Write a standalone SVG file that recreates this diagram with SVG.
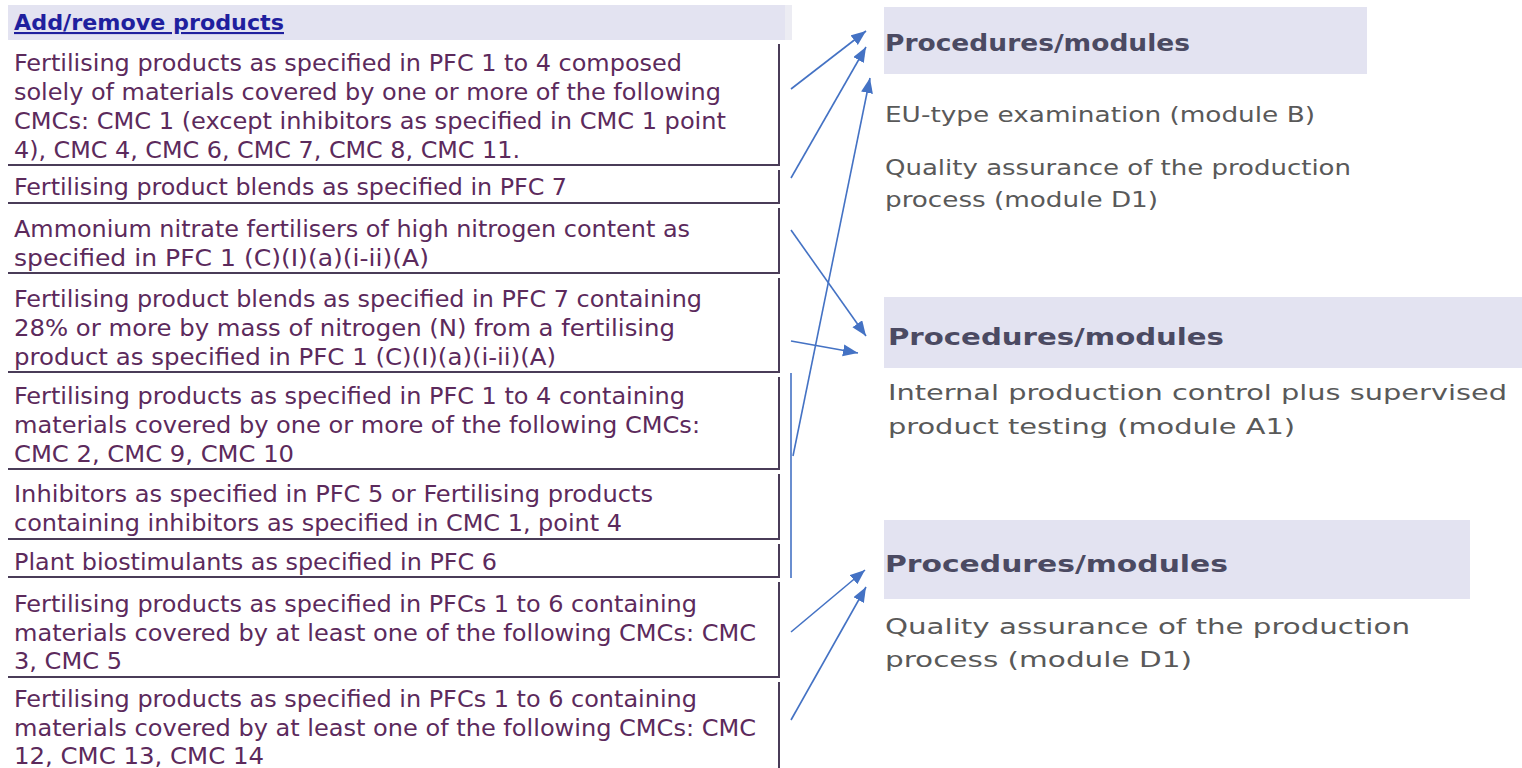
<svg xmlns="http://www.w3.org/2000/svg" width="1522" height="768" viewBox="0 0 1522 768">
<style>
.t{font-family:"DejaVu Sans Condensed","DejaVu Sans",sans-serif;font-size:23px;fill:#5c2a5c}
.hd{font-family:"DejaVu Sans Condensed","DejaVu Sans",sans-serif;font-size:21px;font-weight:bold;fill:#1f1f9e;text-decoration:underline}
.ph{font-family:"DejaVu Sans Condensed","DejaVu Sans",sans-serif;font-size:23px;font-weight:bold;fill:#4b4a62}
.pt{font-family:"DejaVu Sans Condensed","DejaVu Sans",sans-serif;font-size:22px;fill:#595959}
.bd{stroke:#4a3c58;stroke-width:2;fill:none}
.band{fill:#e3e3f1}
.ar{stroke:#4472c4;stroke-width:1.6;fill:none}
</style>
<defs>
<marker id="ah" markerUnits="userSpaceOnUse" markerWidth="16" markerHeight="14" refX="15" refY="6" orient="auto">
<path d="M0,0 L15,6 L0,12 Z" fill="#4472c4"/>
</marker>
</defs>
<rect width="1522" height="768" fill="#ffffff"/>

<g id="header-left">
<rect class="band" x="8" y="5" width="777" height="35"/>
<rect x="785" y="5" width="7" height="35" fill="#ececf3"/>
<text class="hd" x="14" y="30" textLength="270" lengthAdjust="spacingAndGlyphs">Add/remove products</text>
</g>

<g id="row1">
<path class="bd" d="M8,165 H780 M779,44 V165"/>
<text class="t" x="14" y="71" textLength="668" lengthAdjust="spacingAndGlyphs">Fertilising products as specified in PFC 1 to 4 composed</text>
<text class="t" x="14" y="100" textLength="707" lengthAdjust="spacingAndGlyphs">solely of materials covered by one or more of the following</text>
<text class="t" x="14" y="129" textLength="712" lengthAdjust="spacingAndGlyphs">CMCs: CMC 1 (except inhibitors as specified in CMC 1 point</text>
<text class="t" x="14" y="158" textLength="506" lengthAdjust="spacingAndGlyphs">4), CMC 4, CMC 6, CMC 7, CMC 8, CMC 11.</text>
</g>

<g id="row2">
<path class="bd" d="M8,203 H780 M779,170 V203"/>
<text class="t" x="14" y="195" textLength="553" lengthAdjust="spacingAndGlyphs">Fertilising product blends as specified in PFC 7</text>
</g>

<g id="row3">
<path class="bd" d="M8,273 H780 M779,208 V273"/>
<text class="t" x="14" y="237" textLength="676" lengthAdjust="spacingAndGlyphs">Ammonium nitrate fertilisers of high nitrogen content as</text>
<text class="t" x="14" y="266" textLength="415" lengthAdjust="spacingAndGlyphs">specified in PFC 1 (C)(I)(a)(i-ii)(A)</text>
</g>

<g id="row4">
<path class="bd" d="M8,372 H780 M779,278 V372"/>
<text class="t" x="14" y="307" textLength="688" lengthAdjust="spacingAndGlyphs">Fertilising product blends as specified in PFC 7 containing</text>
<text class="t" x="14" y="336" textLength="661" lengthAdjust="spacingAndGlyphs">28% or more by mass of nitrogen (N) from a fertilising</text>
<text class="t" x="14" y="365" textLength="542" lengthAdjust="spacingAndGlyphs">product as specified in PFC 1 (C)(I)(a)(i-ii)(A)</text>
</g>

<g id="row5">
<path class="bd" d="M8,469 H780 M779,377 V469"/>
<text class="t" x="14" y="404" textLength="671" lengthAdjust="spacingAndGlyphs">Fertilising products as specified in PFC 1 to 4 containing</text>
<text class="t" x="14" y="433" textLength="686" lengthAdjust="spacingAndGlyphs">materials covered by one or more of the following CMCs:</text>
<text class="t" x="14" y="462" textLength="280" lengthAdjust="spacingAndGlyphs">CMC 2, CMC 9, CMC 10</text>
</g>

<g id="row6">
<path class="bd" d="M8,539 H780 M779,474 V539"/>
<text class="t" x="14" y="502" textLength="639" lengthAdjust="spacingAndGlyphs">Inhibitors as specified in PFC 5 or Fertilising products</text>
<text class="t" x="14" y="531" textLength="608" lengthAdjust="spacingAndGlyphs">containing inhibitors as specified in CMC 1, point 4</text>
</g>

<g id="row7">
<path class="bd" d="M8,577 H780 M779,544 V577"/>
<text class="t" x="14" y="570" textLength="483" lengthAdjust="spacingAndGlyphs">Plant biostimulants as specified in PFC 6</text>
</g>

<g id="row8">
<path class="bd" d="M8,677 H780 M779,582 V677"/>
<text class="t" x="14" y="612" textLength="683" lengthAdjust="spacingAndGlyphs">Fertilising products as specified in PFCs 1 to 6 containing</text>
<text class="t" x="14" y="641" textLength="742" lengthAdjust="spacingAndGlyphs">materials covered by at least one of the following CMCs: CMC</text>
<text class="t" x="14" y="669" textLength="108" lengthAdjust="spacingAndGlyphs">3, CMC 5</text>
</g>

<g id="row9">
<path class="bd" d="M779,682 V768"/>
<text class="t" x="14" y="707" textLength="683" lengthAdjust="spacingAndGlyphs">Fertilising products as specified in PFCs 1 to 6 containing</text>
<text class="t" x="14" y="736" textLength="742" lengthAdjust="spacingAndGlyphs">materials covered by at least one of the following CMCs: CMC</text>
<text class="t" x="14" y="764" textLength="250" lengthAdjust="spacingAndGlyphs">12, CMC 13, CMC 14</text>
</g>

<g id="panel1">
<rect class="band" x="884" y="7" width="483" height="67"/>
<text class="ph" x="885" y="51" textLength="305" lengthAdjust="spacingAndGlyphs">Procedures/modules</text>
<text class="pt" x="885" y="122" textLength="430" lengthAdjust="spacingAndGlyphs">EU-type examination (module B)</text>
<text class="pt" x="885" y="175" textLength="466" lengthAdjust="spacingAndGlyphs">Quality assurance of the production</text>
<text class="pt" x="885" y="207" textLength="273" lengthAdjust="spacingAndGlyphs">process (module D1)</text>
</g>

<g id="panel2">
<rect class="band" x="884" y="297" width="638" height="71"/>
<text class="ph" x="888" y="345" textLength="336" lengthAdjust="spacingAndGlyphs">Procedures/modules</text>
<text class="pt" x="888" y="400" textLength="619" lengthAdjust="spacingAndGlyphs">Internal production control plus supervised</text>
<text class="pt" x="888" y="434" textLength="407" lengthAdjust="spacingAndGlyphs">product testing (module A1)</text>
</g>

<g id="panel3">
<rect class="band" x="884" y="520" width="586" height="79"/>
<text class="ph" x="885" y="572" textLength="343" lengthAdjust="spacingAndGlyphs">Procedures/modules</text>
<text class="pt" x="885" y="634" textLength="525" lengthAdjust="spacingAndGlyphs">Quality assurance of the production</text>
<text class="pt" x="885" y="667" textLength="307" lengthAdjust="spacingAndGlyphs">process (module D1)</text>
</g>

<g id="connectors">
<line class="ar" x1="791" y1="89" x2="866" y2="31" marker-end="url(#ah)"/>
<line class="ar" x1="791" y1="178" x2="866" y2="47" marker-end="url(#ah)"/>
<line class="ar" x1="793" y1="456" x2="870" y2="78" marker-end="url(#ah)"/>
<line class="ar" x1="791" y1="230" x2="866" y2="336" marker-end="url(#ah)"/>
<line class="ar" x1="791" y1="341" x2="858" y2="353" marker-end="url(#ah)"/>
<line class="ar" x1="791" y1="373" x2="791" y2="578"/>
<line class="ar" x1="791" y1="632" x2="865" y2="570" marker-end="url(#ah)"/>
<line class="ar" x1="791" y1="720" x2="866" y2="587" marker-end="url(#ah)"/>
</g>
</svg>
